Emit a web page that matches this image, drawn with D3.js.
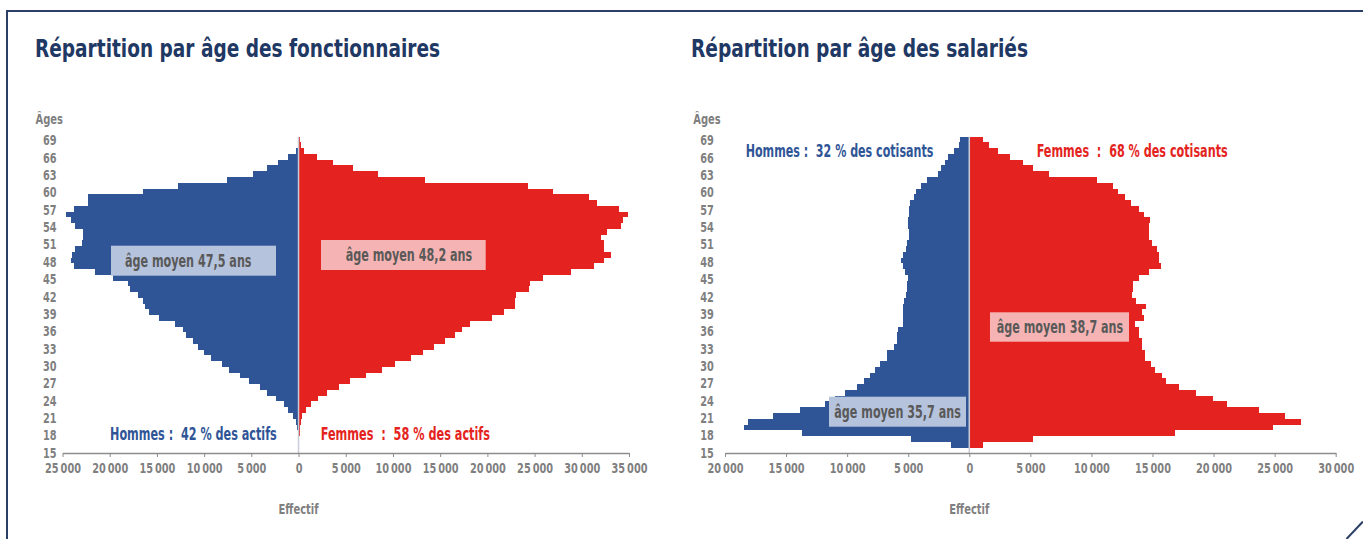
<!DOCTYPE html>
<html lang="fr">
<head>
  <meta charset="UTF-8">
  <title>Répartition par âge des fonctionnaires et des salariés</title>
  <script src="https://cdnjs.cloudflare.com/ajax/libs/d3/7.8.5/d3.min.js"></script>
  <style>
    body { margin: 0; background: #ffffff; }
    svg text {
      font-family: "Liberation Sans Narrow", "DejaVu Sans Condensed", "Arial Narrow", sans-serif;
      font-weight: bold;
      white-space: pre;
    }
  </style>
</head>
<body>
  <svg id="chart" width="1363" height="539"></svg>

  <script>
    // ages, du bas (15) vers le haut (69)
    const ages = [15, 16, 17, 18, 19, 20, 21, 22, 23, 24, 25, 26, 27, 28, 29, 30, 31, 32, 33, 34,
      35, 36, 37, 38, 39, 40, 41, 42, 43, 44, 45, 46, 47, 48, 49, 50, 51, 52, 53, 54,
      55, 56, 57, 58, 59, 60, 61, 62, 63, 64, 65, 66, 67, 68, 69];
    const ageTicks = [15, 18, 21, 24, 27, 30, 33, 36, 39, 42, 45, 48, 51, 54, 57, 60, 63, 66, 69];

    // fonctionnaires
    const fonctHommes = [0, 0, 0, 100, 120, 250, 600, 1100, 1550, 2400, 3350, 4100, 5200, 6200, 7350, 8100, 9250, 10000, 10600, 11150,
      11900, 12200, 13100, 14750, 15850, 16250, 16500, 17050, 17850, 18100, 19700, 21550, 23800, 24150, 24000, 23650, 22900, 22800, 22800, 23650,
      24100, 24600, 23800, 22350, 22250, 16450, 12750, 7550, 4800, 3350, 2150, 1100, 300, 100, 60];
    const fonctFemmes = [0, 0, 0, 150, 200, 260, 340, 760, 1320, 2070, 3020, 4290, 5450, 7150, 8880, 10250, 11900, 13200, 14350, 15550,
      16600, 17350, 18150, 20500, 21750, 22950, 22950, 23050, 24400, 24500, 25850, 28850, 31250, 32300, 33050, 32300, 32300, 32050, 32650, 34100,
      34350, 34900, 33950, 31600, 30750, 26900, 24250, 13400, 8400, 5750, 3600, 1950, 580, 250, 200];

    // salariés
    const salHommes = [0, 1500, 4770, 13670, 18450, 18090, 16050, 13860, 11810, 11000, 10180, 9190, 8650, 8130, 7720, 7310, 6740, 6740, 6190, 5950,
      5950, 5810, 5450, 5450, 5400, 5400, 5320, 5210, 5130, 5070, 5000, 5280, 5450, 5590, 5450, 5210, 5130, 4910, 4910, 4990,
      5040, 4960, 4940, 4860, 4500, 4360, 3950, 3460, 2590, 2320, 1990, 1720, 1250, 850, 800];
    const salFemmes = [0, 1100, 5190, 16840, 24840, 27160, 25850, 23720, 21070, 19980, 18560, 17170, 16100, 15750, 15200, 14850, 14390, 14390, 14110, 14110,
      13890, 13890, 13570, 14330, 14140, 14440, 13620, 13290, 13380, 13380, 13890, 14710, 15700, 15530, 15530, 15340, 14930, 14710, 14710, 14710,
      14790, 14330, 13890, 13240, 12750, 12150, 11740, 10430, 6520, 5190, 4370, 3330, 2320, 1610, 1100];

    const fonctTicks = [-25000, -20000, -15000, -10000, -5000, 0, 5000, 10000, 15000, 20000, 25000, 30000, 35000];
    const salTicks = [-20000, -15000, -10000, -5000, 0, 5000, 10000, 15000, 20000, 25000, 30000];

    const BLUE = "#2f5597", RED = "#e42320", GREY = "#7f7f7f", NAVY = "#1f3864";

    const fr = d3.formatLocale({ decimal: ",", thousands: "\u2009", grouping: [3], currency: ["", " €"] });
    const fmt = fr.format(",");

    // largeur d'un libellé numérique condensé : chiffres étroits + espace fine
    const numLen = s => s.replace(/\D/g, "").length * 6.8 + (s.includes("\u2009") ? 2 : 0);

    const svg = d3.select("#chart");

    // cadre
    svg.append("path")
      .attr("d", "M7,539 L7,11 L1363,11")
      .attr("fill", "none")
      .attr("stroke", "#2b3f66")
      .attr("stroke-width", 2);
    svg.append("line")
      .attr("x1", 1346.5).attr("y1", 539).attr("x2", 1363).attr("y2", 521.5)
      .attr("stroke", "#2b3f66").attr("stroke-width", 2);

    const y = d3.scaleBand().domain(ages).range([453.3, 136.7]).padding(0);
    const yLab = d3.scaleLinear().domain([15, 69]).range([452.6, 140]);

    function drawPyramid(o) {
      const g = svg.append("g");
      const x = d3.scaleLinear().domain(o.domain).range(o.range);

      g.append("text")
        .attr("x", o.titleX).attr("y", 56.5)
        .attr("fill", NAVY).style("font-size", "24px")
        .attr("textLength", o.titleLen).attr("lengthAdjust", "spacingAndGlyphs")
        .text(o.title);

      g.append("text")
        .attr("x", o.agesX).attr("y", 124)
        .attr("fill", GREY).style("font-size", "14px")
        .attr("textLength", 27.5).attr("lengthAdjust", "spacingAndGlyphs")
        .text("Âges");

      // barres
      g.append("g").selectAll("rect").data(ages).join("rect")
        .attr("x", (d, i) => x(-o.hommes[i]))
        .attr("y", d => y(d))
        .attr("width", (d, i) => x(0) - x(-o.hommes[i]))
        .attr("height", y.bandwidth())
        .attr("fill", BLUE)
        .attr("shape-rendering", "crispEdges");
      g.append("g").selectAll("rect").data(ages).join("rect")
        .attr("x", x(0))
        .attr("y", d => y(d))
        .attr("width", (d, i) => x(o.femmes[i]) - x(0))
        .attr("height", y.bandwidth())
        .attr("fill", RED)
        .attr("shape-rendering", "crispEdges");

      // axe vertical au zéro
      g.append("line")
        .attr("x1", x(0)).attr("x2", x(0))
        .attr("y1", 136.7).attr("y2", 453)
        .attr("stroke", "#c9ccd6").attr("stroke-width", 1.5);

      // axe des âges
      g.append("g").selectAll("text").data(ageTicks).join("text")
        .attr("x", o.ageLabX)
        .attr("y", d => yLab(d))
        .attr("dy", "0.36em")
        .attr("text-anchor", "end")
        .attr("fill", GREY).style("font-size", "14.5px")
        .attr("textLength", d => numLen(String(d)))
        .attr("lengthAdjust", "spacingAndGlyphs")
        .text(d => d);

      // axe des effectifs
      const ax = g.append("g")
        .attr("transform", "translate(0,453)")
        .call(d3.axisBottom(x).tickValues(o.ticks).tickSize(4).tickSizeOuter(0)
          .tickFormat(d => fmt(Math.abs(d))));
      ax.select(".domain").attr("stroke", "#8c8c8c").attr("stroke-width", 1.3);
      ax.selectAll(".tick line").attr("stroke", "#8c8c8c");
      ax.selectAll(".tick text")
        .attr("fill", GREY)
        .attr("y", 10)
        .attr("textLength", d => numLen(fmt(Math.abs(d))))
        .attr("lengthAdjust", "spacingAndGlyphs")
        .style("font-size", "14.5px")
        .style("font-family", "'Liberation Sans Narrow', 'DejaVu Sans Condensed', sans-serif")
        .style("font-weight", "bold");

      g.append("text")
        .attr("x", x(0)).attr("y", 514)
        .attr("text-anchor", "middle")
        .attr("fill", GREY).style("font-size", "14px")
        .attr("textLength", 40).attr("lengthAdjust", "spacingAndGlyphs")
        .text("Effectif");

      // boîtes âge moyen
      o.boxes.forEach(b => {
        g.append("rect")
          .attr("x", b.x).attr("y", b.y).attr("width", b.w).attr("height", b.h)
          .attr("fill", b.fill);
        g.append("text")
          .attr("x", b.tx).attr("y", b.y + b.h / 2).attr("dy", "0.36em")
          .attr("fill", "#595959").style("font-size", "17px")
          .attr("textLength", 126.5).attr("lengthAdjust", "spacingAndGlyphs")
          .text(b.text);
      });

      // parts hommes / femmes
      o.labels.forEach(l => {
        g.append("text")
          .attr("x", l.x).attr("y", l.y).attr("dy", "0.36em")
          .attr("fill", l.fill).style("font-size", "17px")
          .attr("textLength", l.len).attr("lengthAdjust", "spacingAndGlyphs")
          .text(l.text);
      });
    }

    drawPyramid({
      title: "Répartition par âge des fonctionnaires",
      titleX: 35, titleLen: 405, agesX: 35.5, ageLabX: 56.5,
      domain: [-25000, 35000], range: [62.5, 629],
      ticks: fonctTicks, hommes: fonctHommes, femmes: fonctFemmes,
      boxes: [
        { x: 111, y: 245.7, w: 165, h: 30, tx: 125, fill: "#b6c3dc", text: "âge moyen 47,5 ans" },
        { x: 321, y: 240, w: 164.7, h: 30, tx: 345.7, fill: "#f5b4b3", text: "âge moyen 48,2 ans" }
      ],
      labels: [
        { x: 110, y: 434, len: 166.7, fill: BLUE, text: "Hommes :  42 % des actifs" },
        { x: 320.7, y: 434, len: 169.3, fill: RED, text: "Femmes  :  58 % des actifs" }
      ]
    });

    drawPyramid({
      title: "Répartition par âge des salariés",
      titleX: 691, titleLen: 337, agesX: 693.3, ageLabX: 713.8,
      domain: [-20000, 30000], range: [725, 1335.7],
      ticks: salTicks, hommes: salHommes, femmes: salFemmes,
      boxes: [
        { x: 829, y: 396.7, w: 137, h: 30, tx: 834.3, fill: "#b6c3dc", text: "âge moyen 35,7 ans" },
        { x: 990, y: 312.3, w: 139, h: 29.4, tx: 996.7, fill: "#f5b4b3", text: "âge moyen 38,7 ans" }
      ],
      labels: [
        { x: 745.7, y: 150.7, len: 187.6, fill: BLUE, text: "Hommes :  32 % des cotisants" },
        { x: 1036.7, y: 150.7, len: 191, fill: RED, text: "Femmes  :  68 % des cotisants" }
      ]
    });
  </script>
</body>
</html>
